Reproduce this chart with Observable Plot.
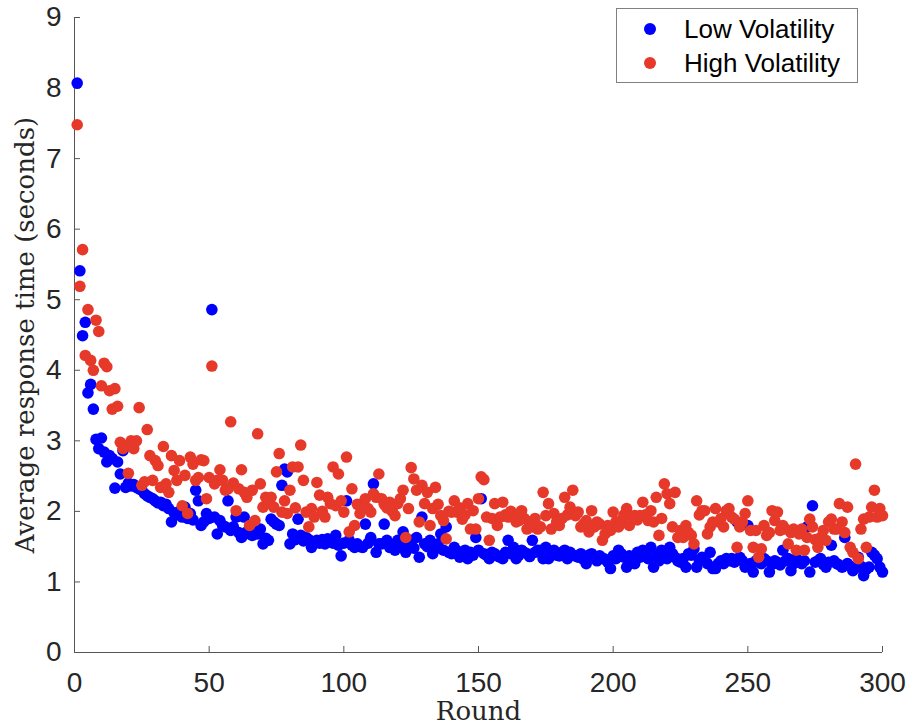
<!DOCTYPE html>
<html>
<head>
<meta charset="utf-8">
<script src="https://cdn.jsdelivr.net/npm/d3@7"></script>
<script src="https://cdn.jsdelivr.net/npm/@observablehq/plot@0.6"></script>
<style>
  html, body { margin: 0; padding: 0; background: #fff; }
  #wrap { position: relative; width: 909px; height: 728px; }
  #legend { position: absolute; left: 616px; top: 8px; width: 240px; height: 73px;
    border: 1px solid #808080; background: #fff; font-family: "Liberation Sans", Arial, sans-serif; }
  .item { position: absolute; left: 0; width: 240px; height: 34px; }
  .sw { position: absolute; left: 27px; width: 12px; height: 12px; border-radius: 50%; }
  .lab { position: absolute; left: 67px; font-size: 26px; color: #000; white-space: nowrap; line-height: 26px; }
</style>
</head>
<body>
<div id="wrap"><div id="chart"></div><div id="legend"></div></div>
<script>
const seriesNames = ["Low Volatility", "High Volatility"];
const seriesColors = ["#0000ff", "#e6392a"];
const xTicks = [0, 50, 100, 150, 200, 250, 300];
const yTicks = [0, 1, 2, 3, 4, 5, 6, 7, 8, 9];
const xLabel = "Round";
const yLabel = "Average response time (seconds)";

// Low Volatility, rounds 1..300
const lowVol = [
  8.07, 5.41, 4.49, 4.68, 3.68, 3.80, 3.45, 3.02, 2.89, 3.04,
  2.84, 2.70, 2.79, 2.75, 2.33, 2.70, 2.53, 2.86, 2.34, 2.40,
  2.36, 2.38, 2.34, 2.32, 2.30, 2.25, 2.22, 2.20, 2.18, 2.15,
  2.12, 2.13, 2.08, 2.10, 2.04, 1.85, 1.98, 1.95, 2.00, 1.92,
  2.06, 1.90, 1.97, 1.88, 2.30, 2.15, 1.80, 1.85, 1.97, 1.90,
  4.86, 1.92, 1.68, 1.87, 1.80, 1.78, 2.15, 1.73, 1.78, 1.92,
  1.70, 1.63, 1.92, 1.71, 1.68, 1.66, 1.70, 1.68, 1.75, 1.54,
  1.62, 1.59, 1.89, 1.85, 1.82, 1.80, 2.37, 2.60, 2.56, 1.54,
  1.68, 1.60, 1.89, 1.66, 1.58, 1.63, 1.60, 1.49, 1.57, 1.59,
  1.55, 1.60, 1.54, 1.61, 1.58, 1.55, 1.66, 1.52, 1.37, 1.55,
  2.15, 1.59, 1.52, 1.49, 1.54, 1.50, 1.49, 1.82, 1.55, 1.63,
  2.39, 1.42, 1.54, 1.54, 1.82, 1.59, 1.49, 1.52, 1.45, 1.59,
  1.50, 1.71, 1.42, 1.55, 1.59, 1.48, 1.63, 1.35, 1.92, 1.54,
  1.50, 1.59, 1.40, 1.47, 1.54, 1.68, 1.45, 1.78, 1.42, 1.40,
  1.49, 1.44, 1.35, 1.40, 1.45, 1.33, 1.42, 1.38, 1.63, 1.45,
  2.18, 1.40, 1.38, 1.33, 1.42, 1.40, 1.37, 1.35, 1.33, 1.42,
  1.59, 1.40, 1.49, 1.33, 1.38, 1.45, 1.42, 1.40, 1.36, 1.59,
  1.42, 1.45, 1.45, 1.33, 1.49, 1.33, 1.40, 1.45, 1.38, 1.37,
  1.42, 1.45, 1.33, 1.42, 1.38, 1.37, 1.35, 1.40, 1.32, 1.26,
  1.38, 1.40, 1.35, 1.30, 1.37, 1.34, 1.32, 1.28, 1.19, 1.37,
  1.33, 1.45, 1.40, 1.35, 1.21, 1.37, 1.30, 1.26, 1.42, 1.35,
  1.45, 1.38, 1.33, 1.49, 1.21, 1.37, 1.30, 1.45, 1.35, 1.33,
  1.49, 1.40, 1.35, 1.30, 1.28, 1.33, 1.21, 1.40, 1.38, 1.47,
  1.21, 1.30, 1.35, 1.33, 1.26, 1.42, 1.19, 1.19, 1.26, 1.30,
  1.26, 1.33, 1.30, 1.33, 1.28, 1.85, 1.35, 1.30, 1.21, 1.80,
  1.26, 1.14, 1.30, 1.28, 1.26, 1.33, 1.30, 1.14, 1.25, 1.30,
  1.28, 1.24, 1.45, 1.30, 1.33, 1.16, 1.26, 1.33, 1.30, 1.26,
  1.30, 1.78, 1.14, 2.08, 1.28, 1.30, 1.33, 1.25, 1.21, 1.28,
  1.52, 1.30, 1.26, 1.24, 1.21, 1.63, 1.26, 1.22, 1.16, 1.20,
  1.35, 1.22, 1.09, 1.18, 1.21, 1.42, 1.38, 1.33, 1.21, 1.14
];

// High Volatility, rounds 1..300
const highVol = [
  7.48, 5.19, 5.71, 4.21, 4.86, 4.14, 4.00, 4.71, 4.55, 3.78,
  4.10, 4.05, 3.71, 3.45, 3.74, 3.49, 2.98, 2.89, 2.93, 2.54,
  3.00, 2.89, 3.00, 3.47, 2.37, 2.42, 3.16, 2.79, 2.44, 2.72,
  2.65, 2.34, 2.92, 2.39, 2.27, 2.79, 2.58, 2.44, 2.72, 2.08,
  2.51, 1.97, 2.77, 2.67, 2.44, 2.48, 2.73, 2.72, 2.18, 2.48,
  4.06, 2.39, 2.44, 2.59, 2.44, 2.30, 2.32, 3.27, 2.40, 2.01,
  2.32, 2.59, 2.27, 2.20, 1.80, 2.30, 1.87, 3.10, 2.39, 2.06,
  2.20, 2.12, 2.20, 2.06, 2.56, 2.82, 1.99, 2.15, 1.97, 2.30,
  2.63, 2.05, 2.63, 2.94, 2.44, 1.99, 1.78, 2.04, 1.92, 2.41,
  2.23, 2.00, 1.92, 2.20, 2.11, 2.63, 2.08, 2.53, 2.15, 1.99,
  2.77, 1.71, 2.32, 1.80, 2.10, 1.97, 2.11, 2.18, 2.04, 1.99,
  2.25, 2.20, 2.53, 2.18, 2.10, 2.05, 2.13, 2.00, 1.94, 2.11,
  2.18, 2.30, 1.63, 2.04, 2.62, 2.46, 2.30, 1.85, 2.37, 2.11,
  2.27, 1.80, 2.04, 2.34, 2.10, 1.94, 1.87, 1.61, 2.00, 1.99,
  2.15, 1.99, 2.05, 1.89, 1.95, 2.11, 1.75, 2.01, 1.75, 2.18,
  2.49, 2.45, 1.92, 1.59, 1.90, 2.11, 1.80, 1.92, 2.13, 1.95,
  1.92, 2.00, 1.92, 1.85, 1.87, 2.01, 1.90, 1.75, 1.85, 1.78,
  1.90, 1.75, 1.78, 2.27, 1.94, 2.11, 1.75, 1.97, 1.85, 1.80,
  1.90, 2.20, 1.95, 2.06, 2.30, 1.94, 1.99, 1.78, 1.82, 1.87,
  1.71, 2.01, 1.78, 1.85, 1.82, 1.59, 1.68, 1.80, 1.73, 1.99,
  1.85, 1.78, 1.87, 1.95, 2.04, 1.80, 1.92, 1.94, 1.88, 1.94,
  2.13, 1.95, 1.87, 2.01, 1.85, 2.20, 1.66, 1.90, 2.39, 2.25,
  2.11, 1.78, 2.27, 1.63, 1.73, 1.63, 1.80, 1.70, 1.66, 1.54,
  2.15, 1.95, 2.01, 2.01, 1.68, 1.78, 1.85, 2.04, 1.85, 1.90,
  1.78, 2.01, 2.04, 1.92, 1.89, 1.49, 1.78, 1.85, 1.97, 2.15,
  1.73, 1.49, 1.73, 1.35, 1.47, 1.80, 1.66, 1.70, 2.01, 1.87,
  1.99, 1.73, 1.80, 1.75, 1.54, 1.70, 1.75, 1.45, 1.68, 1.75,
  1.45, 1.63, 1.89, 1.78, 1.60, 1.49, 1.63, 1.73, 1.59, 1.85,
  1.89, 1.75, 1.75, 2.11, 1.85, 1.70, 2.06, 1.49, 1.42, 2.67,
  1.33, 1.75, 1.89, 1.49, 1.92, 2.06, 2.30, 1.92, 2.04, 1.94
];

const lowData = lowVol.map((v, i) => ({round: i + 1, value: v}));
const highData = highVol.map((v, i) => ({round: i + 1, value: v}));

const axisColor = "#555555";
const tickFont = "28px";
const fmt = d => String(d);

const chart = Plot.plot({
  width: 909,
  height: 728,
  marginLeft: 74,
  marginRight: 27,
  marginTop: 17,
  marginBottom: 76,
  style: {fontFamily: '"Liberation Sans", Arial, Helvetica, sans-serif', background: "#fff", color: "#262626", overflow: "visible"},
  x: {domain: [0, 300]},
  y: {domain: [0, 9]},
  marks: [
    Plot.ruleX([0], {stroke: axisColor, strokeWidth: 1}),
    Plot.ruleY([0], {stroke: axisColor, strokeWidth: 1}),
    Plot.axisX(xTicks, {tickSize: 6, dy: -6, fill: "none", stroke: axisColor, label: null}),
    Plot.axisY(yTicks, {tickSize: 6, dx: 6, fill: "none", stroke: axisColor, label: null}),
    Plot.axisX(xTicks, {tickSize: 0, tickPadding: 20, fontSize: tickFont, fill: "#262626", tickFormat: fmt, label: null}),
    Plot.axisY(yTicks, {tickSize: 0, tickPadding: 13, fontSize: tickFont, fill: "#262626", tickFormat: fmt, label: null}),
    Plot.dot(lowData, {x: "round", y: "value", r: 5.8, fill: seriesColors[0], stroke: null}),
    Plot.dot(highData, {x: "round", y: "value", r: 5.8, fill: seriesColors[1], stroke: null}),
    Plot.text([yLabel], {frameAnchor: "left", rotate: -90, dx: -41, lineAnchor: "bottom", textAnchor: "middle",
      fontFamily: '"DejaVu Serif", serif', fontSize: 26, fill: "#262626"}),
    Plot.text([xLabel], {frameAnchor: "bottom", dy: 67, lineAnchor: "bottom", textAnchor: "middle",
      fontFamily: '"DejaVu Serif", serif', fontSize: 26, fill: "#262626"})
  ]
});
document.getElementById("chart").appendChild(chart);

const legend = document.getElementById("legend");
seriesNames.forEach((name, i) => {
  const item = document.createElement("div");
  item.className = "item";
  item.style.top = (i * 34 + 2) + "px";
  const sw = document.createElement("div");
  sw.className = "sw";
  sw.style.top = "12px";
  sw.style.background = seriesColors[i];
  const lab = document.createElement("div");
  lab.className = "lab";
  lab.style.top = "5px";
  lab.textContent = name;
  item.appendChild(sw);
  item.appendChild(lab);
  legend.appendChild(item);
});
</script>
</body>
</html>
